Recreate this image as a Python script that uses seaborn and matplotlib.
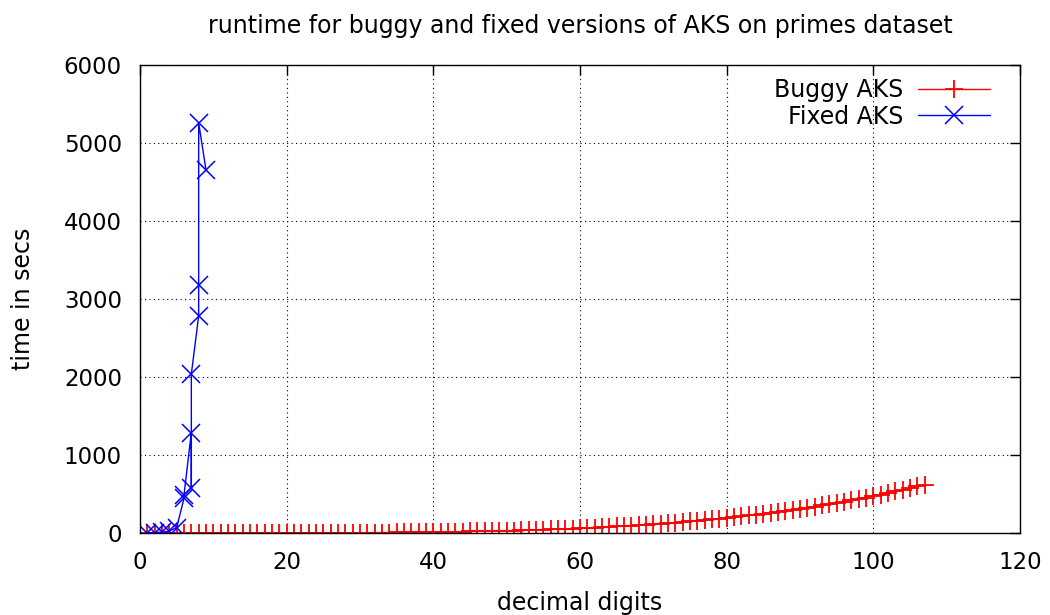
import pandas as pd
import matplotlib
matplotlib.use("Agg")
import matplotlib.pyplot as plt
import seaborn as sns

# Buggy AKS: runtime per number of decimal digits
buggy_digits = list(range(1, 108))
buggy_secs = [
    0.0, 0.0, 0.0, 0.0, 0.0, 0.01, 0.01, 0.02, 0.03, 0.05,
    0.07, 0.1, 0.14, 0.18, 0.24, 0.31, 0.4, 0.5, 0.62, 0.76,
    0.92, 1.1, 1.3, 1.6, 1.9, 2.2, 2.5, 2.9, 3.4, 3.8,
    4.4, 5.0, 5.6, 6.3, 7.1, 7.9, 8.9, 9.9, 10.9, 12.1,
    13.4, 14.7, 16.2, 17.7, 19.4, 21.2, 23.1, 25.1, 27.3, 29.6,
    32.0, 34.6, 37.3, 40.2, 43.3, 46.5, 49.9, 53.5, 57.3, 61.3,
    65.5, 69.9, 74.5, 79.4, 84.4, 89.7, 95.3, 101.1, 107.1, 113.6,
    120.2, 127.1, 134.3, 141.8, 149.7, 157.8, 166.3, 175.1, 184.2, 193.8,
    203.6, 213.9, 224.5, 235.5, 246.9, 258.7, 270.9, 283.6, 296.7, 310.3,
    324.3, 338.8, 353.7, 369.1, 385.1, 401.5, 418.5, 436.0, 454.0, 473.0,
    492.4, 512.5, 533.0, 554.2, 575.9, 598.2, 620.0,
]

# Fixed AKS: runs in file order (several runs per digit count)
fixed_digits = [1, 2, 3, 4, 5, 6, 6, 7, 7, 7, 8, 8, 8, 9]
fixed_secs = [3, 5, 10, 25, 70, 445, 490, 1286, 575, 2038, 2782, 3175, 5260, 4654]

df_buggy = pd.DataFrame({"digits": buggy_digits, "secs": buggy_secs})
df_fixed = pd.DataFrame({"digits": fixed_digits, "secs": fixed_secs})

sns.set_style("white")
plt.rcParams["font.family"] = ["DejaVu Sans"]
plt.rcParams["text.color"] = "black"
plt.rcParams["axes.labelcolor"] = "black"

fig = plt.figure(figsize=(10.5, 6.15), dpi=100)
ax = fig.add_axes([140 / 1050, 1 - 533 / 615, 880 / 1050, 468 / 615])

sns.lineplot(data=df_buggy, x="digits", y="secs", ax=ax, color="red", lw=1,
             marker="+", markersize=13, markeredgewidth=1.3, markeredgecolor="red",
             estimator=None, sort=False, label="Buggy AKS")
sns.lineplot(data=df_fixed, x="digits", y="secs", ax=ax, color="blue", lw=1,
             marker="x", markersize=13, markeredgewidth=1.1, markeredgecolor="blue",
             estimator=None, sort=False, label="Fixed AKS")

ax.set_xlim(0, 120)
ax.set_ylim(0, 6000)
ax.set_xticks(range(0, 121, 20))
ax.set_yticks(range(0, 6001, 1000))
ax.grid(True, color="black", linestyle=(0, (1, 3)), linewidth=0.8)
ax.tick_params(direction="in", length=7, width=1, top=True, right=True,
               labelsize=16.5, pad=13, colors="black")
for s in ax.spines.values():
    s.set_color("black")
    s.set_linewidth(1)

ax.set_title("runtime for buggy and fixed versions of AKS on primes dataset",
             fontsize=17, pad=23)
ax.set_xlabel("decimal digits", fontsize=17, labelpad=12)
ax.set_ylabel("time in secs", fontsize=17, labelpad=21)

leg = ax.legend(loc="upper right", bbox_to_anchor=(0.977, 0.992), frameon=False,
                markerfirst=False, fontsize=17, handlelength=3.05,
                handletextpad=0.65, borderaxespad=0, labelspacing=0.1)
for t in leg.get_texts():
    t.set_ha("right")

fig.savefig("out.png", dpi=100)
